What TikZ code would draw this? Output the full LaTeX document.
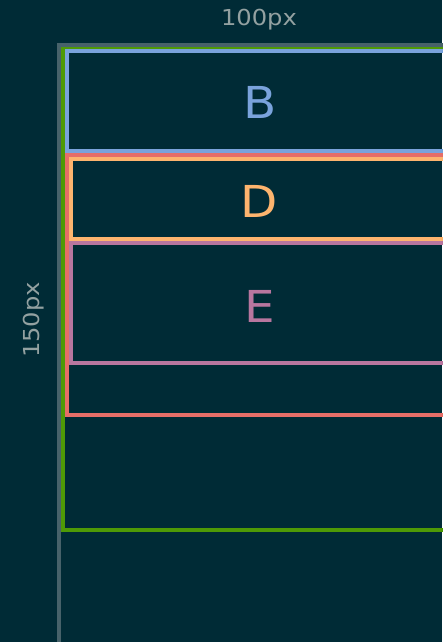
\documentclass[tikz,border=0pt]{standalone}
\usepackage{fontspec}
\setmainfont{DejaVu Sans}
\usepackage{xcolor}
\usetikzlibrary{positioning}
\definecolor{bgcol}{HTML}{002B36}
\definecolor{axiscol}{HTML}{47626A}
\definecolor{labelcol}{HTML}{93A1A1}
\definecolor{boxgreen}{HTML}{4E9A06}
\definecolor{boxblue}{HTML}{7AA3DC}
\definecolor{boxred}{HTML}{E66E68}
\definecolor{boxorange}{HTML}{FDB46E}
\definecolor{boxpurple}{HTML}{B8769F}

\begin{document}
\begin{tikzpicture}[x=1pt,y=-1pt,
    box/.style={line width=4pt},
    dimlabel/.style={text=labelcol,font=\fontsize{22}{26}\selectfont\addfontfeature{FakeStretch=1.1}},
    boxlabel/.style={font=\fontsize{44}{50}\selectfont\addfontfeature{FakeStretch=1.1}}]
  \fill[bgcol] (0,0) rectangle (442,642);
  \useasboundingbox (0,0) rectangle (442,642);
  % axes
  \draw[box,axiscol] (59,660) -- (59,45.3) -- (470,45.3);
  \node[dimlabel] (width) at (259,20) {100px};
  \node[dimlabel,rotate=90] (height) at (34,320) {150px};
  % nested boxes
  \draw[box,boxgreen] (470,49.3) -- (63,49.3) -- (63,529.7) -- (470,529.7);
  \draw[box,boxblue] (470,51.3) -- (67,51.3) -- (67,151.3) -- (470,151.3);
  \draw[box,boxred] (470,155.3) -- (67,155.3) -- (67,415.3) -- (470,415.3);
  \draw[box,boxorange] (470,159.3) -- (71,159.3) -- (71,239.3) -- (470,239.3);
  \draw[box,boxpurple] (470,243.3) -- (71,243.3) -- (71,363.3) -- (470,363.3);
  \node[boxlabel,text=boxblue] (b) at (260,102) {B};
  \node[boxlabel,text=boxorange] (d) at (259.5,201.5) {D};
  \node[boxlabel,text=boxpurple] (e) at (260,306) {E};
\end{tikzpicture}
\end{document}
